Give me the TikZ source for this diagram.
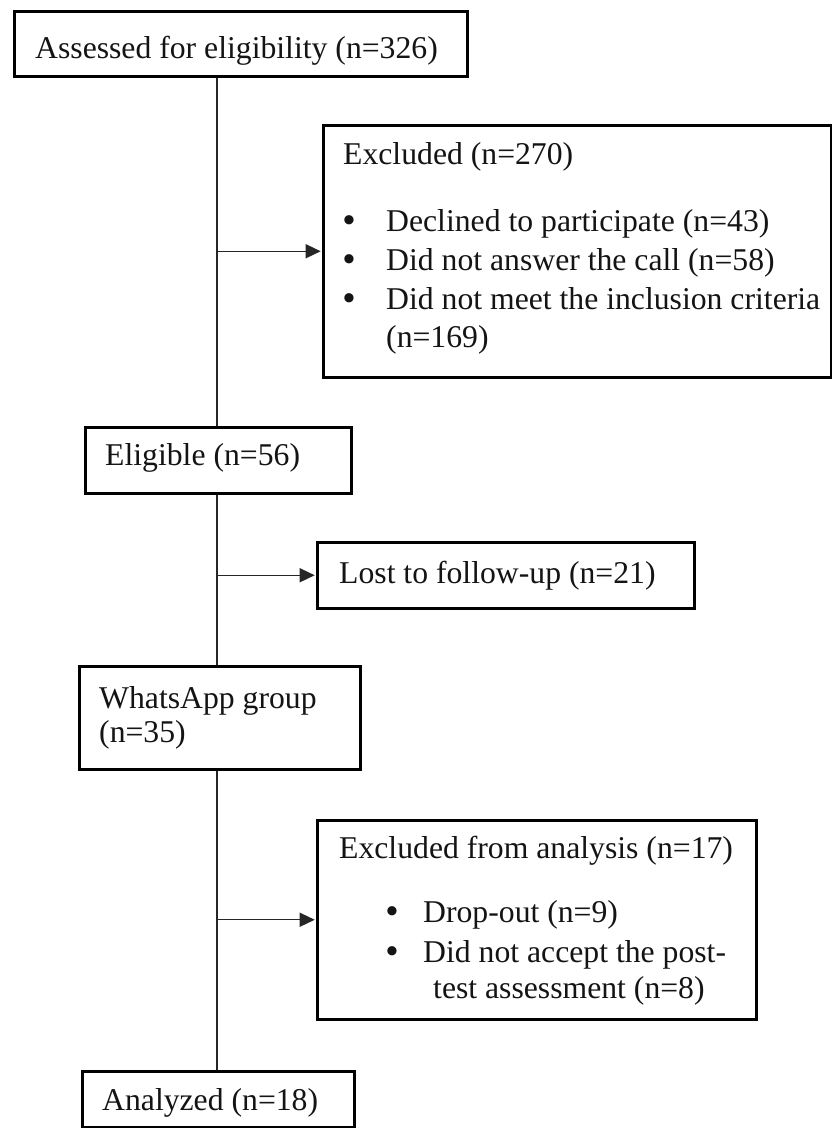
\documentclass[tikz,border=0pt]{standalone}
\usepackage{fontspec}
\setmainfont{Liberation Serif}
\usetikzlibrary{arrows.meta}
\begin{document}
\begin{tikzpicture}[x=1pt,y=-1pt,
  box/.style={draw=black,line width=2.5pt,rectangle,inner sep=0pt,anchor=north west},
  txt/.style={anchor=base west,inner sep=0pt,text=black!92,font=\fontsize{31.7}{38}\selectfont},
  bul/.style={txt,font=\fontsize{34}{38}\selectfont\bfseries},
  conn/.style={line width=1.4pt,draw=black!85},
  arr/.style={conn,-{Triangle[length=15pt,width=14pt]},shorten >=1.3pt}]
\useasboundingbox (0,0) rectangle (832,1128);
\fill[white] (0,0) rectangle (832,1128);
% boxes
\node[box,minimum width=453pt,minimum height=65pt] (b1) at (13,10) {};
\node[box,minimum width=508pt,minimum height=252pt] (excl) at (322,124) {};
\node[box,minimum width=266pt,minimum height=66pt] (elig) at (84,426) {};
\node[box,minimum width=377pt,minimum height=66pt] (lost) at (316,541) {};
\node[box,minimum width=281pt,minimum height=103pt] (whats) at (78,665) {};
\node[box,minimum width=439pt,minimum height=199pt] (excl2) at (316,819) {};
\node[box,minimum width=272pt,minimum height=56pt] (anal) at (81,1070) {};
% texts
\node[txt] (t1) at (35,58) {Assessed for eligibility (n=326)};
\node[txt] (t2) at (343,164) {Excluded (n=270)};
\node[bul] (t2b1) at (343,231) {\textbullet};
\node[txt] (t2l1) at (386,231) {Declined to participate (n=43)};
\node[bul] (t2b2) at (343,270) {\textbullet};
\node[txt] (t2l2) at (386,270) {Did not answer the call (n=58)};
\node[bul] (t2b3) at (343,309) {\textbullet};
\node[txt] (t2l3) at (386,309) {Did not meet the inclusion criteria};
\node[txt] (t2l4) at (386,347) {(n=169)};
\node[txt] (t3) at (105,465) {Eligible (n=56)};
\node[txt] (t4) at (339,583) {Lost to follow-up (n=21)};
\node[txt] (t5a) at (99,708) {WhatsApp group};
\node[txt] (t5b) at (99,742) {(n=35)};
\node[txt] (t6) at (339,858) {Excluded from analysis (n=17)};
\node[bul] (t6b1) at (386,922) {\textbullet};
\node[txt] (t6l1) at (423,922) {Drop-out (n=9)};
\node[bul] (t6b2) at (386,962) {\textbullet};
\node[txt] (t6l2) at (423,962) {Did not accept the post-};
\node[txt] (t6l3) at (433,998) {test assessment (n=8)};
\node[txt] (t7) at (102,1110) {Analyzed (n=18)};
% connectors
\coordinate (tx) at (217,0);
\draw[conn] (b1.south -| tx) -- (elig.north -| tx);
\draw[arr] (excl.west -| tx) -- (excl.west);
\draw[conn] (elig.south -| tx) -- (whats.north -| tx);
\draw[arr] (lost.west -| tx) -- (lost.west);
\draw[conn] (whats.south -| tx) -- (anal.north -| tx);
\draw[arr] (excl2.west -| tx) -- (excl2.west);
\end{tikzpicture}
\end{document}
